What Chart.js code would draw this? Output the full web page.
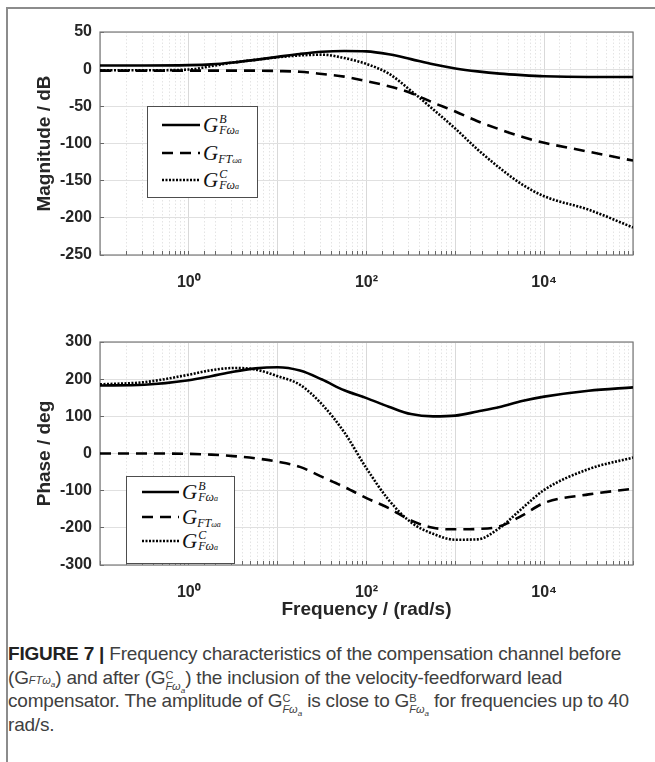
<!DOCTYPE html>
<html>
<head>
<meta charset="utf-8">
<script src="https://cdn.jsdelivr.net/npm/chart.js@4.4.1/dist/chart.umd.min.js"></script>
<style>
  body { margin: 0; background: #fff; }
  #page { position: relative; width: 655px; height: 762px; overflow: hidden; }
  #frame { position: absolute; left: 6px; top: 7px; right: -5px; bottom: -5px;
           border-left: 2px solid #8c8c8c; border-top: 2px solid #8c8c8c; }
  canvas { position: absolute; left: 0; }
  .legend { position: absolute; border: 1px solid #4d4d4d; background: #fff;
            font-family: "Liberation Serif", serif; font-style: italic; color: #111; }
  .row { position: absolute; left: 0; display: flex; align-items: center; height: 26px; }
  .row svg { display: block; }
  .g { font-size: 21px; margin-left: 3px; }
  .ss { display: inline-block; vertical-align: middle; line-height: 0.95; font-size: 12px; margin-left: 1px; }
  .ss > span { display: block; }
  .sub2 { font-size: 8px; }
  .low { font-size: 12px; position: relative; top: 6px; }
  .cap { position: absolute; left: 8px; white-space: nowrap; height: 23px;
         font-family: Arial, "Liberation Sans", sans-serif; letter-spacing: -0.2px;
         font-size: 19px; line-height: 23px; color: #404040; }
  .cap b { color: #222; }
  .cap .cs { display: inline-block; vertical-align: -6px; line-height: 11px; font-size: 11px; height: 22px; letter-spacing: 0; }
  .cap .cs > span { display: block; }
  .cap i { font-size: 11px; letter-spacing: 0; }
  .cap sub { font-size: 8px; }
</style>
</head>
<body>
<div id="page">
  <div id="frame"></div>
  <canvas id="mag" width="655" height="300" style="top:0"></canvas>
  <canvas id="phase" width="655" height="325" style="top:300px"></canvas>

  <div class="legend" style="left:147px; top:106px; width:109px; height:90px;">
    <div class="row" style="top:5px"><svg width="52" height="6"><line x1="14" y1="3" x2="52" y2="3" stroke="#000" stroke-width="2.6"/></svg><span class="g">G</span><span class="ss"><span>B</span><span>Fω<span class="sub2">a</span></span></span></div>
    <div class="row" style="top:33px"><svg width="52" height="6"><line x1="14" y1="3" x2="52" y2="3" stroke="#000" stroke-width="2.6" stroke-dasharray="11 7"/></svg><span class="g">G</span><span class="low">FT<span class="sub2">ωa</span></span></div>
    <div class="row" style="top:60px"><svg width="52" height="6"><line x1="14" y1="3" x2="52" y2="3" stroke="#000" stroke-width="2.6" stroke-dasharray="2 1.5"/></svg><span class="g">G</span><span class="ss"><span>C</span><span>Fω<span class="sub2">a</span></span></span></div>
  </div>

  <div class="legend" style="left:126px; top:476px; width:107px; height:86px;">
    <div class="row" style="top:2px"><svg width="52" height="6"><line x1="15" y1="3" x2="52" y2="3" stroke="#000" stroke-width="2.6"/></svg><span class="g">G</span><span class="ss"><span>B</span><span>Fω<span class="sub2">a</span></span></span></div>
    <div class="row" style="top:27px"><svg width="52" height="6"><line x1="15" y1="3" x2="52" y2="3" stroke="#000" stroke-width="2.6" stroke-dasharray="11 7"/></svg><span class="g">G</span><span class="low">FT<span class="sub2">ωa</span></span></div>
    <div class="row" style="top:51px"><svg width="52" height="6"><line x1="15" y1="3" x2="52" y2="3" stroke="#000" stroke-width="2.6" stroke-dasharray="2 1.5"/></svg><span class="g">G</span><span class="ss"><span>C</span><span>Fω<span class="sub2">a</span></span></span></div>
  </div>

  <div class="cap" style="top:642px"><b>FIGURE 7 |</b> Frequency characteristics of the compensation channel before</div>
  <div class="cap" style="top:666px">(G<i>FTω<sub>a</sub></i>) and after (G<span class="cs"><span>C</span><span><i>Fω<sub>a</sub></i></span></span>) the inclusion of the velocity-feedforward lead</div>
  <div class="cap" style="top:689px">compensator. The amplitude of G<span class="cs"><span>C</span><span><i>Fω<sub>a</sub></i></span></span> is close to G<span class="cs"><span>B</span><span><i>Fω<sub>a</sub></i></span></span> for frequencies up to 40</div>
  <div class="cap" style="top:713px">rad/s.</div>
</div>

<script>
// frequency grid, rad/s (quarter decades)
const freq = [0.1, 0.316, 1, 1.78, 3.16, 5.62, 10, 17.8, 31.6, 56.2, 100, 178, 316, 562, 1000, 1778, 3162, 5623, 10000, 31623, 100000];

// magnitude, dB
const magB  = [5, 5, 5.5, 6.5, 9, 12.5, 16.5, 20.5, 23.5, 24.5, 24, 20, 13.5, 6.5, 1, -3, -6, -8, -9.5, -10.5, -10.5];
const magFT = [-2, -2, -2, -2, -2, -2, -2.5, -3.5, -6.5, -10, -16, -23, -32, -45, -57, -70, -81, -91, -99, -111, -123];
const magC  = [-1.5, -1.5, -0.5, 4, 9, 12.5, 16, 18.5, 19.5, 15, 7, -6, -29, -54, -80, -108, -133, -155, -171, -189, -213];

// phase, deg
const phaseB  = [183, 185, 197, 208, 220, 229, 232, 223, 199, 170, 149, 126, 106, 100, 102, 113, 125, 141, 153, 169, 178];
const phaseFT = [0, 0, -1, -3, -7, -13, -22, -36, -63, -90, -120, -147, -180, -200, -204, -203, -196, -167, -133, -110, -95];
const phaseC  = [186, 192, 212, 224, 230, 226, 208, 185, 132, 57, -40, -125, -185, -216, -232, -231, -200, -148, -98, -42, -11];

const xTickLabels = { 1: '10⁰', 100: '10²', 10000: '10⁴' };

const isDecade = v => Math.abs(Math.log10(v) - Math.round(Math.log10(v))) < 1e-6;
const fam = 'Arial, "Liberation Sans", sans-serif';
const tickFont = { family: fam, size: 16, weight: 'bold' };
const titleFont = { family: fam, size: 19, weight: 'bold' };

const boxPlugin = {
  id: 'box',
  beforeDatasetsDraw(chart) {
    const a = chart.chartArea, c = chart.ctx;
    c.save();
    c.strokeStyle = '#7a7a7a';
    c.lineWidth = 1.2;
    c.strokeRect(a.left, a.top, a.right - a.left, a.bottom - a.top);
    c.restore();
  }
};

function series(ys, dash) {
  return {
    data: freq.map((f, i) => ({ x: f, y: ys[i] })),
    borderColor: '#000',
    borderWidth: 2.6,
    borderDash: dash,
    pointRadius: 0,
    cubicInterpolationMode: 'monotone',
    fill: false
  };
}

function xLabel(v) {
  for (const k in xTickLabels) {
    if (Math.abs(v - Number(k)) < 1e-6 * Number(k)) return xTickLabels[k];
  }
  return '';
}

function makeChart(id, sets, yMin, yMax, yStep, yTitle, xTitle, padTop, xHeight) {
  return new Chart(document.getElementById(id), {
    type: 'line',
    data: { datasets: sets },
    plugins: [boxPlugin],
    options: {
      responsive: false,
      animation: false,
      layout: { padding: { left: 20, right: 22, top: padTop, bottom: 0 } },
      plugins: { legend: { display: false }, tooltip: { enabled: false } },
      scales: {
        x: {
          type: 'logarithmic',
          min: 0.1,
          max: 100000,
          afterFit: s => { s.height = xHeight; },
          grid: {
            color: ctx => (ctx.tick && isDecade(ctx.tick.value)) ? '#d9d9d9' : '#e4e4e4',
            lineWidth: 1,
            drawTicks: true,
            tickLength: -4,
            tickColor: '#666'
          },
          border: {
            display: false,
            dash: ctx => (ctx.tick && !isDecade(ctx.tick.value)) ? [1.5, 2] : []
          },
          ticks: {
            autoSkip: false,
            maxRotation: 0,
            padding: 22,
            color: '#262626',
            font: tickFont,
            callback: v => xLabel(v)
          },
          title: {
            display: !!xTitle,
            text: xTitle,
            color: '#262626',
            font: titleFont,
            padding: { top: 0, bottom: 4 }
          }
        },
        y: {
          min: yMin,
          max: yMax,
          afterFit: s => { s.width = 80; },
          grid: { color: '#e0e0e0', lineWidth: 1, drawTicks: true, tickLength: -4, tickColor: '#666' },
          border: { display: false },
          ticks: { stepSize: yStep, padding: 12, color: '#262626', font: tickFont },
          title: {
            display: true,
            text: yTitle,
            color: '#262626',
            font: titleFont,
            padding: { top: 13, bottom: 0 }
          }
        }
      }
    }
  });
}

makeChart('mag',
  [series(magB, []), series(magFT, [11, 7]), series(magC, [2, 1.5])],
  -250, 50, 50, 'Magnitude / dB', '', 32, 45);

makeChart('phase',
  [series(phaseB, []), series(phaseFT, [11, 7]), series(phaseC, [2, 1.5])],
  -300, 300, 100, 'Phase / deg', 'Frequency / (rad/s)', 42, 60);
</script>
</body>
</html>
